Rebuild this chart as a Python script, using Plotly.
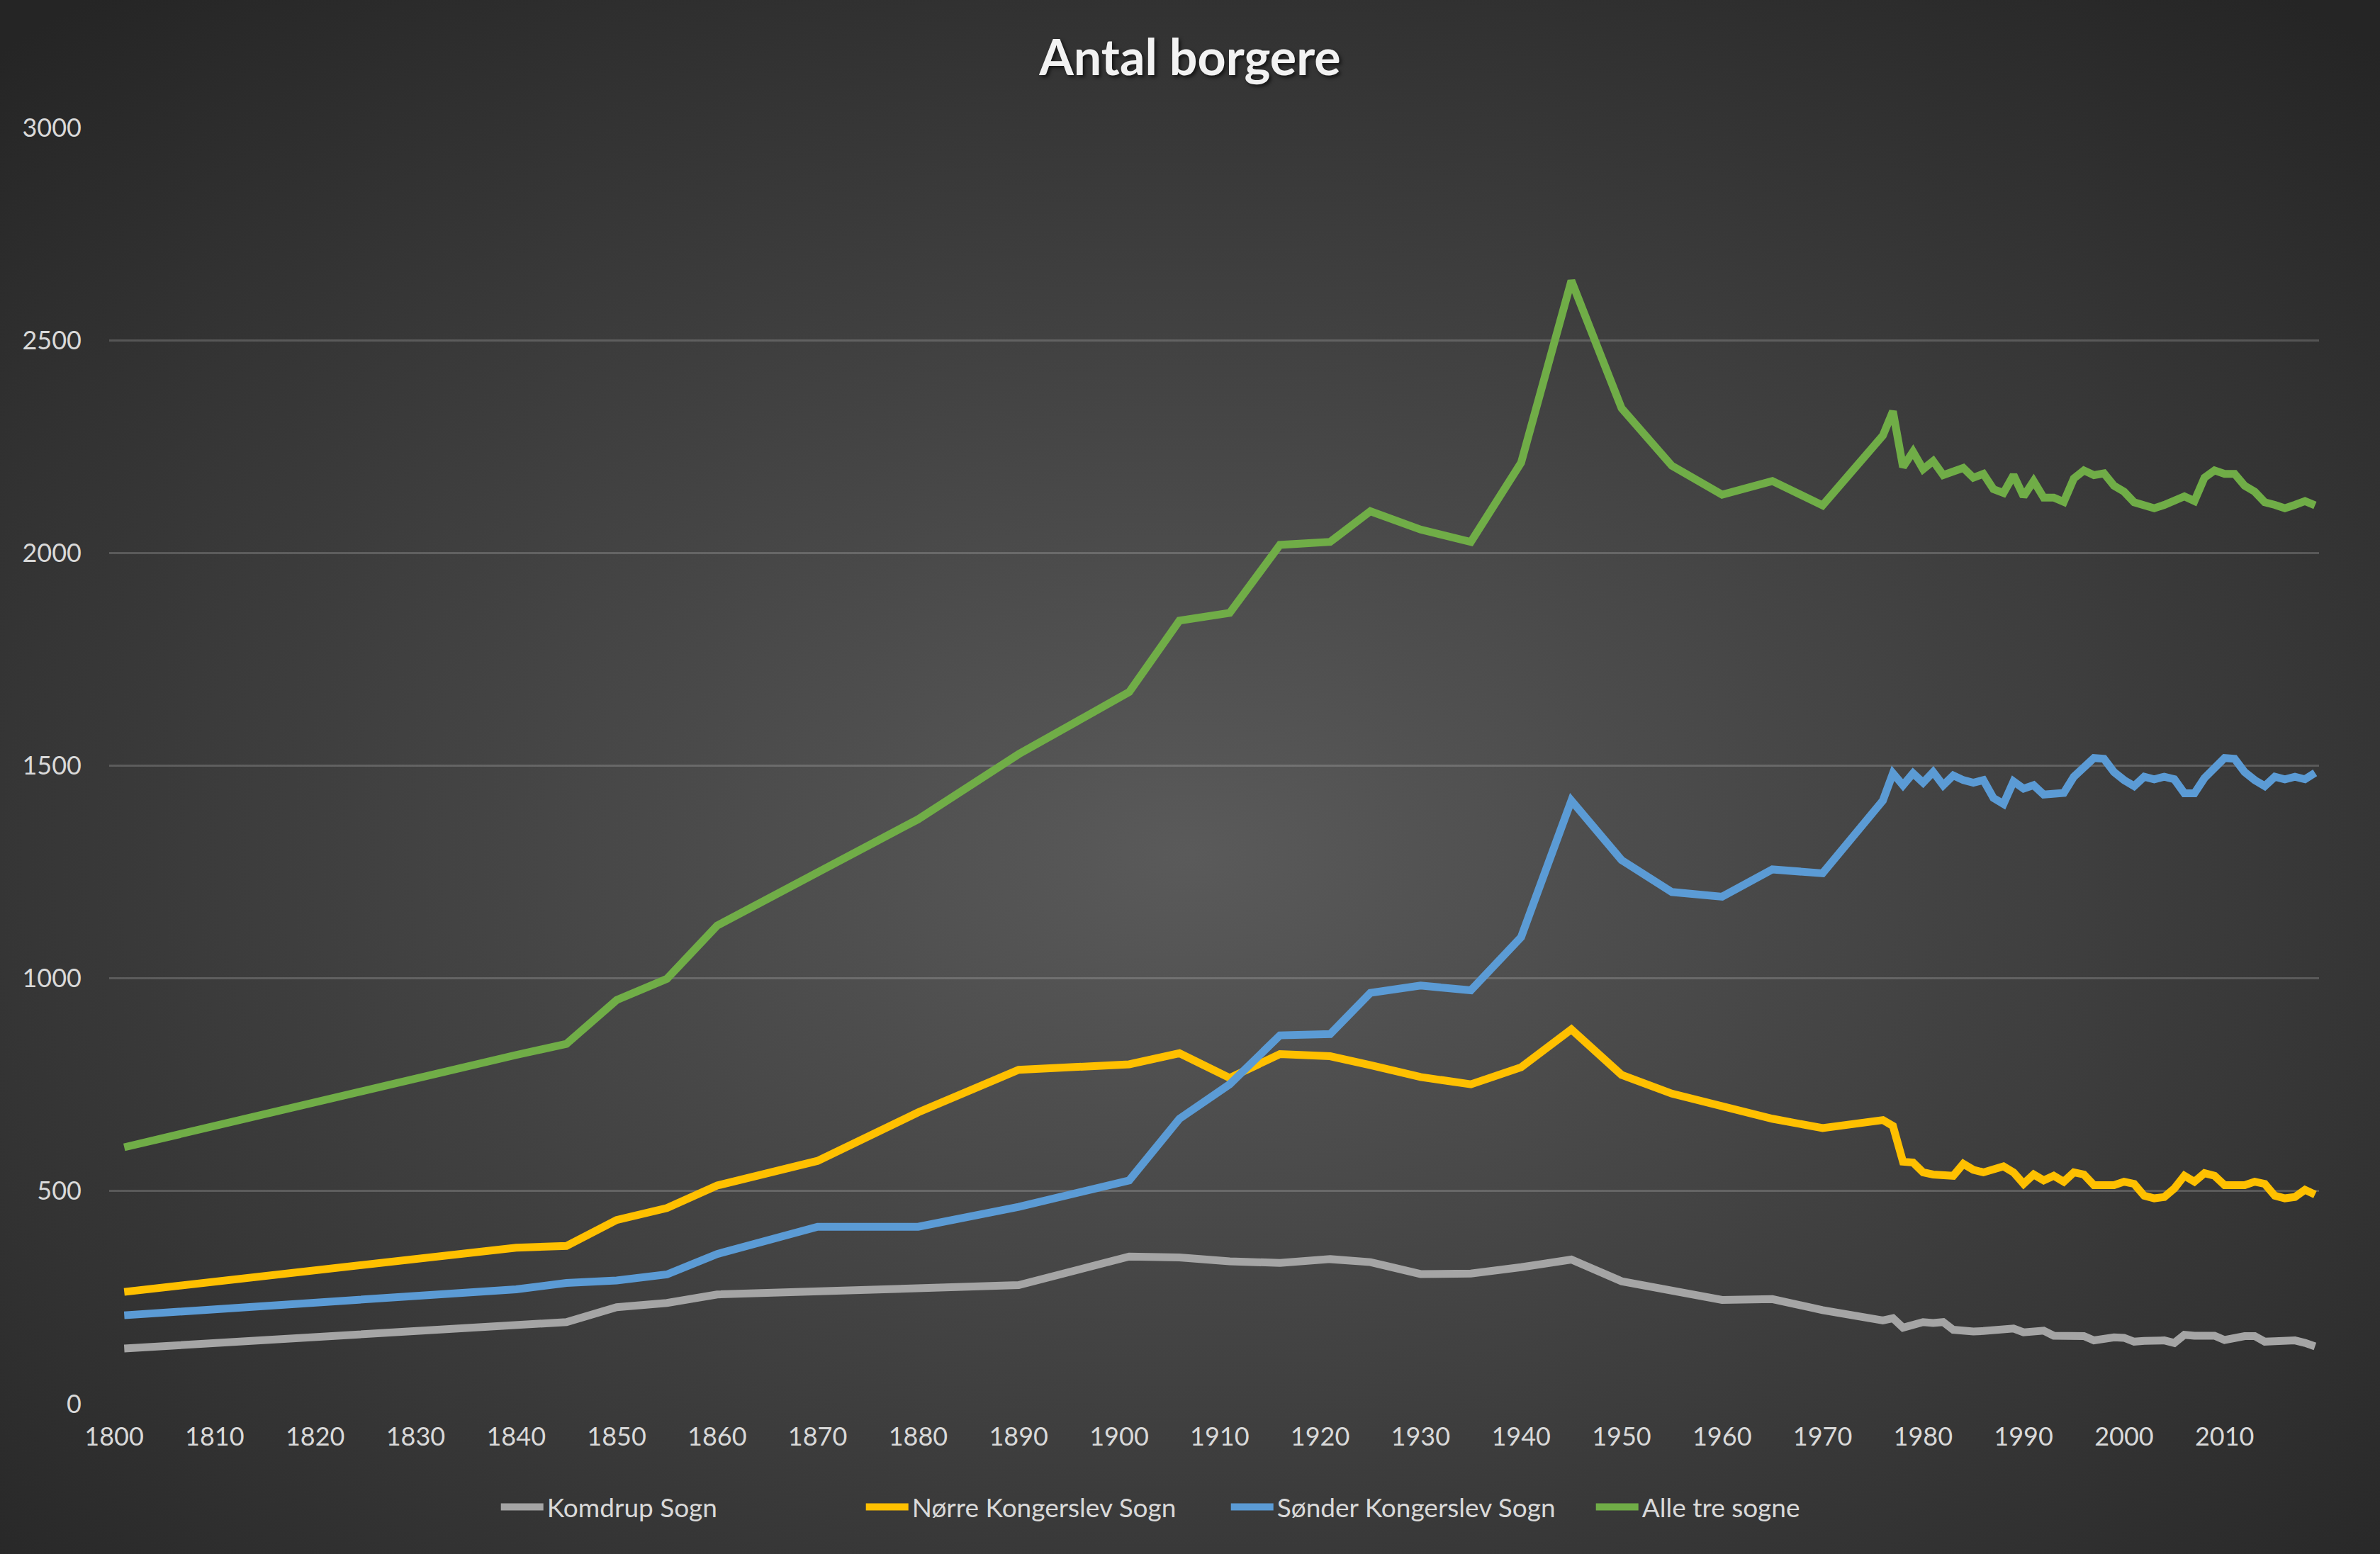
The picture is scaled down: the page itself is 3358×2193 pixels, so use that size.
"""Antal borgere i Komdrup, Nørre og Sønder Kongerslev sogne 1801-2019."""

import base64

import plotly.graph_objects as go

# census years, then yearly from 1976
years = [
    1801, 1834, 1840, 1845, 1850, 1855, 1860, 1870, 1880, 1890,
    1901, 1906, 1911, 1916, 1921, 1925, 1930, 1935, 1940, 1945,
    1950, 1955, 1960, 1965, 1970,
    1976, 1977, 1978, 1979, 1980, 1981, 1982, 1983, 1984, 1985,
    1986, 1987, 1988, 1989, 1990, 1991, 1992, 1993, 1994, 1995,
    1996, 1997, 1998, 1999, 2000, 2001, 2002, 2003, 2004, 2005,
    2006, 2007, 2008, 2009, 2010, 2011, 2012, 2013, 2014, 2015,
    2016, 2017, 2018, 2019,
]

komdrup = [
    130, 177, 184, 192, 227, 237, 257, 265, 271, 279,
    346, 344, 335, 331, 340, 333, 305, 306, 321, 339,
    288, 267, 244, 246, 220,
    196, 201, 179, 186, 192, 190, 192, 174, 171, 170,
    171, 172, 174, 177, 168, 172, 172, 160, 159, 159,
    159, 149, 154, 156, 155, 146, 148, 149, 149, 143,
    162, 160, 160, 160, 150, 156, 159, 159, 146, 147,
    149, 149, 143, 135,
]

noerre = [
    263, 354, 367, 371, 432, 460, 513, 571, 685, 785,
    798, 824, 766, 822, 817, 796, 768, 751, 791, 880,
    773, 729, 698, 670, 648,
    667, 653, 569, 567, 544, 539, 539, 536, 564, 550,
    544, 553, 558, 544, 517, 539, 525, 536, 522, 544,
    539, 514, 514, 514, 522, 517, 489, 483, 486, 506,
    536, 522, 542, 536, 514, 514, 514, 522, 517, 489,
    483, 486, 503, 492,
]

soender = [
    208, 257, 269, 284, 290, 304, 352, 416, 416, 463,
    525, 670, 751, 866, 869, 966, 983, 972, 1097, 1418,
    1278, 1203, 1192, 1256, 1247,
    1418, 1482, 1454, 1482, 1460, 1485, 1454, 1477, 1466, 1460,
    1466, 1424, 1410, 1463, 1446, 1454, 1432, 1435, 1436, 1474,
    1499, 1518, 1516, 1485, 1466, 1452, 1474, 1468, 1474, 1468,
    1435, 1435, 1471, 1493, 1518, 1516, 1485, 1466, 1452, 1474,
    1468, 1474, 1468, 1483,
]

alle = [
    603, 790, 820, 846, 949, 999, 1124, 1249, 1374, 1527,
    1673, 1841, 1859, 2019, 2026, 2098, 2055, 2026, 2212, 2640,
    2340, 2205, 2137, 2169, 2112,
    2276, 2333, 2202, 2238, 2197, 2216, 2183, 2191, 2200, 2177,
    2186, 2150, 2141, 2183, 2133, 2169, 2130, 2130, 2120, 2175,
    2194, 2183, 2187, 2158, 2144, 2119, 2113, 2105, 2113, 2122,
    2133, 2122, 2177, 2194, 2186, 2186, 2158, 2144, 2119, 2113,
    2105, 2113, 2122, 2112,
]

series_names = ["Komdrup Sogn", "Nørre Kongerslev Sogn", "Sønder Kongerslev Sogn", "Alle tre sogne"]
series_values = [komdrup, noerre, soender, alle]
colors = ["#A5A5A5", "#FFC000", "#5B9BD5", "#70AD47"]

W, H = 3358, 2193
M = {"l": 154, "r": 86, "t": 180, "b": 212}
FONT = "Lato, 'Open Sans', sans-serif"

# radial dark background like the Excel chart style
svg = (
    '<svg xmlns="http://www.w3.org/2000/svg" width="100" height="100" '
    'viewBox="0 0 100 100" preserveAspectRatio="none">'
    '<defs><radialGradient id="g" cx="50%" cy="55%" r="72%">'
    '<stop offset="0" stop-color="#5a5a5a"/>'
    '<stop offset="1" stop-color="#252525"/>'
    "</radialGradient></defs>"
    '<rect width="100" height="100" fill="url(#g)"/></svg>'
)
bg_uri = "data:image/svg+xml;base64," + base64.b64encode(svg.encode()).decode()

fig = go.Figure()
for name, vals, col in zip(series_names, series_values, colors):
    fig.add_trace(
        go.Scatter(
            x=years,
            y=vals,
            name=name,
            mode="lines",
            line={"color": col, "width": 11},
        )
    )

pw = W - M["l"] - M["r"]
ph = H - M["t"] - M["b"]
fig.add_layout_image(
    source=bg_uri,
    xref="paper",
    yref="paper",
    x=-M["l"] / pw,
    y=1 + M["t"] / ph,
    sizex=W / pw,
    sizey=H / ph,
    sizing="stretch",
    xanchor="left",
    yanchor="top",
    layer="below",
)

fig.update_layout(
    width=W,
    height=H,
    margin=M,
    paper_bgcolor="#333333",
    plot_bgcolor="rgba(0,0,0,0)",
    font={"family": FONT, "color": "#D9D9D9", "size": 36},
    title={
        "text": "<b>Antal borgere</b>",
        "x": 0.5,
        "xanchor": "center",
        "y": 1 - 81 / H,
        "yanchor": "middle",
        "font": {
            "size": 70,
            "color": "#F2F2F2",
            "family": FONT,
            "shadow": "3px 3px 5px rgba(0,0,0,0.6)",
        },
    },
    legend={
        "orientation": "h",
        "x": 0.506,
        "xanchor": "center",
        "y": -146 / ph,
        "yanchor": "middle",
        "font": {"size": 37, "color": "#D9D9D9"},
        "bgcolor": "rgba(0,0,0,0)",
        "itemwidth": 60,
        "entrywidth": 440,
        "entrywidthmode": "pixels",
    },
    showlegend=True,
)

fig.update_xaxes(
    range=[1799.5, 2019.4],
    tick0=1800,
    dtick=10,
    showgrid=False,
    zeroline=False,
    showline=False,
    ticks="",
    ticklabelstandoff=22,
    tickfont={"size": 36, "color": "#D9D9D9"},
)
fig.update_yaxes(
    range=[0, 3000],
    dtick=500,
    showgrid=True,
    gridcolor="rgba(217,217,217,0.22)",
    gridwidth=3,
    zeroline=False,
    showline=False,
    ticks="",
    ticklabelstandoff=38,
    tickfont={"size": 36, "color": "#D9D9D9"},
)

fig.write_html(
    "out.html",
    config={"displayModeBar": False},
    post_script="document.body.style.margin='0';",
)
